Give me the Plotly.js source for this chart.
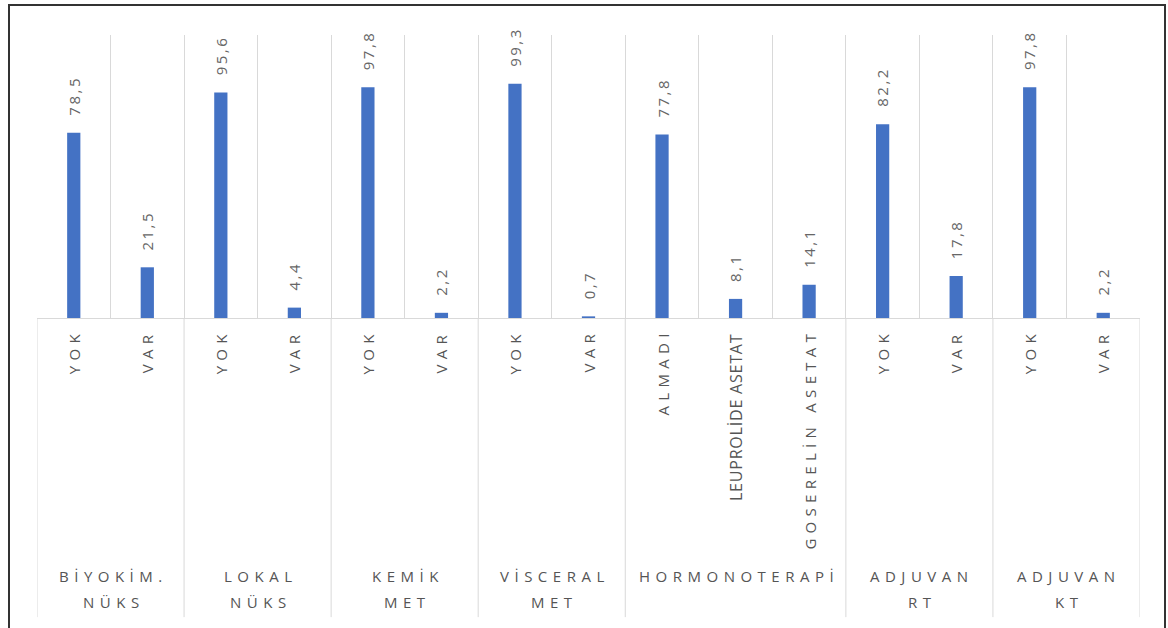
<!DOCTYPE html>
<html>
<head>
<meta charset="utf-8">
<script src="https://cdn.plot.ly/plotly-3.0.1.min.js"></script>
<style>
  html, body { margin: 0; padding: 0; background: #fff; overflow: hidden; }
  body { width: 1168px; height: 628px; position: relative; }
  #chart { position: absolute; left: 0; top: 0; width: 1168px; height: 628px; }
  #frame {
    position: absolute; left: 8px; top: 4px; width: 1154px; height: 700px;
    border: 2px solid #333; border-bottom: none; pointer-events: none;
  }
</style>
</head>
<body>
<div id="chart"></div>
<div id="frame"></div>
<script>
// Group headings (one entry per line) and how many categories each group holds
const groupLines = [
  ["BİYOKİM.", "NÜKS"],
  ["LOKAL", "NÜKS"],
  ["KEMİK", "MET"],
  ["VİSCERAL", "MET"],
  ["HORMONOTERAPİ"],
  ["ADJUVAN", "RT"],
  ["ADJUVAN", "KT"]
];
const groupSizes = [2, 2, 2, 2, 3, 2, 2];

// Inner categories and their percentages
const categories = [
  "YOK", "VAR",
  "YOK", "VAR",
  "YOK", "VAR",
  "YOK", "VAR",
  "ALMADI", "LEUPROLİDE ASETAT", "GOSERELİN ASETAT",
  "YOK", "VAR",
  "YOK", "VAR"
];
const values = [78.5, 21.5, 95.6, 4.4, 97.8, 2.2, 99.3, 0.7, 77.8, 8.1, 14.1, 82.2, 17.8, 97.8, 2.2];

// Labels drawn without the wide tracking
const tightLabels = ["LEUPROLİDE ASETAT"];

const FONT = "Open Sans, Noto Sans, sans-serif";
const LABEL_GREY = "#555555";
const VALUE_GREY = "#666666";
const GRID = "#d9d9d9";

const spaced = (s, px) => `<span style="letter-spacing:${px}px">${s}</span>`;

const xs = categories.map((_, i) => i);
const cellEdges = xs.map(i => i - 0.5).concat([categories.length - 0.5]);

// group boundaries and centres on the category index scale
const groupEdges = [-0.5];
const groupCenters = [];
groupSizes.reduce((start, n) => {
  groupEdges.push(start + n - 0.5);
  groupCenters.push(start + (n - 1) / 2);
  return start + n;
}, 0);

const bars = {
  type: "bar",
  x: xs,
  y: values,
  width: 0.18,
  marker: { color: "#4472C4" },
  hoverinfo: "skip"
};

const annotations = [];

// value labels above each bar
values.forEach((v, i) => {
  annotations.push({
    x: i, y: v, xref: "x", yref: "y",
    text: spaced(v.toFixed(1).replace(".", ","), 2.5),
    textangle: -90, showarrow: false,
    xanchor: "center", yanchor: "bottom", yshift: 15,
    font: { family: FONT, size: 15, color: VALUE_GREY }
  });
});

// inner category labels under the axis
categories.forEach((c, i) => {
  const tight = tightLabels.includes(c);
  annotations.push({
    x: i, y: 0, xref: "x", yref: "paper",
    text: tight ? spaced(c, 0.8) : spaced(c, 5.3),
    textangle: -90, showarrow: false,
    xanchor: "center", yanchor: "top", yshift: tight ? -14 : -9,
    font: { family: FONT, size: tight ? 16 : 15, color: LABEL_GREY }
  });
});

// group headings at the bottom
groupLines.forEach((lines, g) => {
  lines.forEach((line, k) => {
    annotations.push({
      x: groupCenters[g], y: 0, xref: "x", yref: "paper",
      text: spaced(line, 5.5),
      showarrow: false,
      xanchor: "center", yanchor: "top", xshift: 3,
      yshift: -246 - 26 * k,
      font: { family: FONT, size: 15, color: LABEL_GREY }
    });
  });
});

// separators between groups continue down through the label area
const shapes = groupEdges.map(b => ({
  type: "line", xref: "x", yref: "paper",
  x0: b, x1: b, y0: 0, y1: -1.057,
  line: { color: GRID, width: 1 }
}));

const layout = {
  width: 1168, height: 628,
  margin: { l: 37, r: 28, t: 35, b: 310 },
  paper_bgcolor: "#fff", plot_bgcolor: "#fff",
  showlegend: false,
  xaxis: {
    range: [-0.5, categories.length - 0.5],
    tickmode: "array", tickvals: cellEdges,
    showticklabels: false, ticks: "",
    showgrid: true, gridcolor: GRID, gridwidth: 1,
    showline: true, linecolor: GRID, linewidth: 1,
    zeroline: false, fixedrange: true
  },
  yaxis: {
    range: [0, 120],
    showgrid: false, zeroline: false, showticklabels: false, ticks: "",
    showline: false, fixedrange: true
  },
  annotations: annotations,
  shapes: shapes
};

Plotly.newPlot("chart", [bars], layout, { displayModeBar: false, staticPlot: true });
</script>
</body>
</html>
